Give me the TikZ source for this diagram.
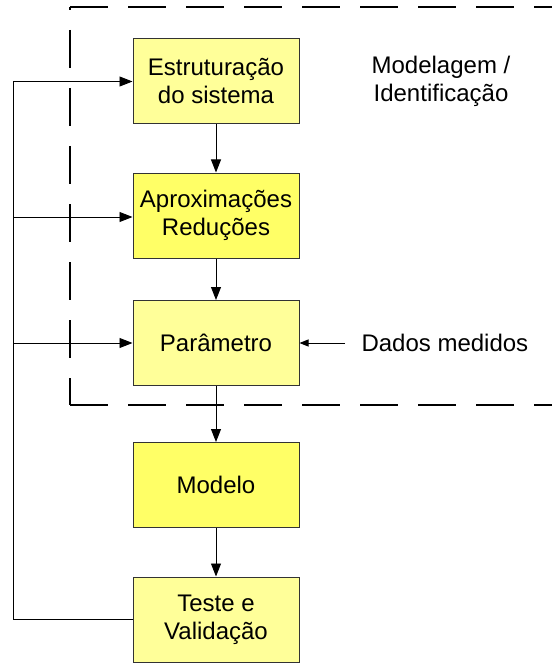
\documentclass[tikz,border=0pt]{standalone}
\usepackage{fontspec}
\setmainfont{Liberation Sans}
\usetikzlibrary{arrows.meta}
\definecolor{lightY}{HTML}{FFFF99}
\definecolor{brightY}{HTML}{FFFF66}
\definecolor{edge}{HTML}{333333}
\begin{document}
\begin{tikzpicture}[x=1pt,y=-1pt,
  box/.style={draw=edge,line width=1pt,minimum width=166pt,minimum height=85pt,align=center,inner sep=0pt,font=\fontsize{24}{28}\selectfont},
  lbl/.style={align=center,font=\fontsize{24}{28}\selectfont},
  conn/.style={draw=black,line width=0.9pt},
  arr/.style={conn,-{Triangle[length=13pt,width=10pt]}},
  sarr/.style={conn,-{Triangle[length=9pt,width=7pt]}},
  dsh/.style={line width=2.5pt,dash pattern=on 38pt off 20pt}]
\useasboundingbox (0,0) rectangle (551,663);
% dashed frame
\draw[dsh,dash phase=0pt] (70,7) -- (560,7);
\draw[dsh,dash phase=35pt] (70,7) -- (70,405);
\draw[dsh,dash phase=0pt] (70,405) -- (560,405);
% boxes
\node[box,fill=lightY] (b1) at (216,81.5) {Estruturação\\do sistema};
\node[box,fill=brightY] (b2) at (216,215.5) {Aproximações\\Reduções};
\node[box,fill=lightY] (b3) at (216,343) {Parâmetro};
\node[box,fill=brightY] (b4) at (216,485) {Modelo};
\node[box,fill=lightY] (b5) at (216,619.5) {Teste e\\Validação};
% labels
\node[lbl] (mi) at (441,81) {Modelagem /\\Identificação};
\node[lbl,anchor=west] (dm) at (358,343) {Dados medidos};
% vertical arrows
\draw[arr] (b1) -- (b2);
\draw[arr] (b2) -- (b3);
\draw[arr] (b3) -- (b4);
\draw[arr] (b4) -- (b5);
% feedback
\coordinate (f1) at (13,81.5);
\coordinate (f2) at (13,217);
\coordinate (f3) at (13,343);
\coordinate (f5) at (13,619.5);
\draw[conn] (b5.west |- f5) -- (f5) -- (f1);
\draw[arr] (f1) -- (b1.west);
\draw[arr] (f2) -- (b2.west |- f2);
\draw[arr] (f3) -- (b3.west);
% measured data
\coordinate (dd) at (345,343);
\draw[sarr] (dd) -- (b3.east);
\end{tikzpicture}
\end{document}
